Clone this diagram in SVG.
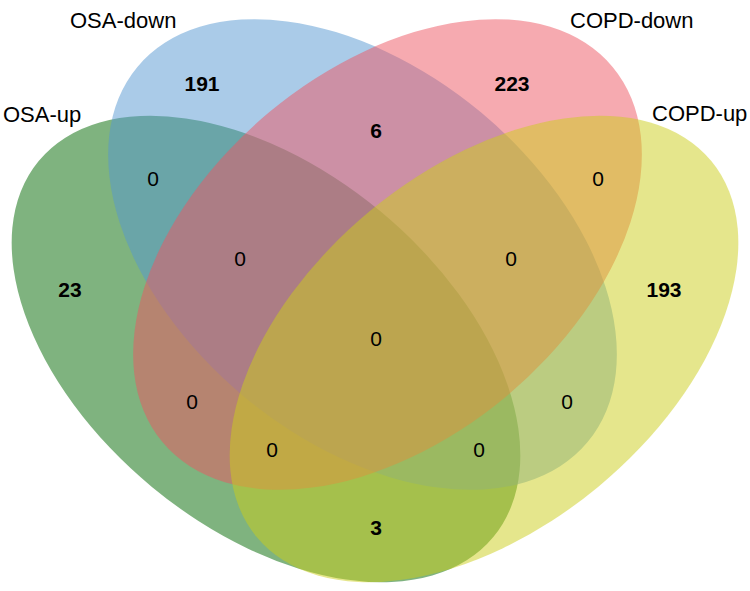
<svg xmlns="http://www.w3.org/2000/svg" width="750" height="591" viewBox="0 0 750 591">
<style>
.set{fill-opacity:0.5;stroke:none}
.lab{font-family:"Liberation Sans",Arial,sans-serif;font-size:22px;fill:#000}
.num{font-family:"Liberation Sans",Arial,sans-serif;font-size:21px;fill:#000;text-anchor:middle}
.b{font-weight:bold}
</style>
<rect width="750" height="591" fill="#fff"/>
<g id="osa-up">
<ellipse class="set" cx="266" cy="349" rx="295" ry="179" transform="rotate(39.6 266 349)" fill="#006700"/>
</g>
<g id="osa-down">
<ellipse class="set" cx="362.5" cy="254.5" rx="293" ry="185" transform="rotate(39.8 362.5 254.5)" fill="#5597d1"/>
</g>
<g id="copd-down">
<ellipse class="set" cx="387.5" cy="254.5" rx="293" ry="185" transform="rotate(-39.8 387.5 254.5)" fill="#ed5561"/>
</g>
<g id="copd-up">
<ellipse class="set" cx="484" cy="349" rx="295" ry="179" transform="rotate(-39.6 484 349)" fill="#cbcd19"/>
</g>
<g id="labels">
<text class="lab" x="70" y="28">OSA-down</text>
<text class="lab" x="3" y="122">OSA-up</text>
<text class="lab" x="570" y="28">COPD-down</text>
<text class="lab" x="652" y="121">COPD-up</text>
</g>
<g id="counts">
<text class="num b" x="202" y="91">191</text>
<text class="num b" x="512" y="91">223</text>
<text class="num b" x="376" y="138">6</text>
<text class="num b" x="70" y="297">23</text>
<text class="num b" x="664" y="297">193</text>
<text class="num b" x="376" y="535">3</text>
<text class="num" x="153" y="186">0</text>
<text class="num" x="598" y="186">0</text>
<text class="num" x="240" y="266">0</text>
<text class="num" x="511" y="266">0</text>
<text class="num" x="376" y="346">0</text>
<text class="num" x="192" y="409">0</text>
<text class="num" x="567" y="409">0</text>
<text class="num" x="272" y="457">0</text>
<text class="num" x="479" y="457">0</text>
</g>
</svg>
